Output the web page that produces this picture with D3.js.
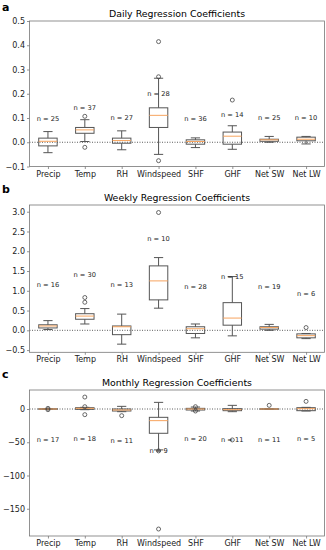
<!DOCTYPE html>
<html>
<head>
<meta charset="utf-8">
<script src="https://cdn.jsdelivr.net/npm/d3@7"></script>
<style>
  body { margin: 0; background: #fff; }
  text { font-family: "DejaVu Sans", sans-serif; }
</style>
</head>
<body>
<div id="chart"></div>
<script>
let w = 326;
let h = 550;

const categories = ["Precip", "Temp", "RH", "Windspeed", "SHF", "GHF", "Net SW", "Net LW"];

// daily
const dailyLow  = [-0.043, 0.003, -0.031, -0.050, -0.022, -0.029, 0.000, -0.007];
const dailyQ1   = [-0.015, 0.037, -0.004, 0.061, -0.008, -0.008, 0.004, 0.006];
const dailyMed  = [0.004, 0.051, 0.007, 0.111, 0.003, 0.025, 0.010, 0.0125];
const dailyQ3   = [0.017, 0.061, 0.017, 0.142, 0.010, 0.042, 0.0125, 0.021];
const dailyHigh = [0.044, 0.093, 0.047, 0.264, 0.018, 0.068, 0.024, 0.024];
const dailyOut  = [[], [0.107, -0.021], [], [0.415, 0.270, -0.076], [], [0.174], [], []];
const dailyN    = [25, 37, 27, 28, 36, 14, 25, 10];
const dailyNy   = [0.097, 0.14, 0.10, 0.20, 0.097, 0.114, 0.10, 0.102];

// weekly
const weeklyLow  = [0.02, 0.16, -0.35, 0.56, -0.19, -0.14, 0.00, -0.21];
const weeklyQ1   = [0.06, 0.28, -0.11, 0.77, -0.08, 0.13, 0.03, -0.19];
const weeklyMed  = [0.11, 0.36, 0.09, 1.25, 0.04, 0.31, 0.07, -0.135];
const weeklyQ3   = [0.14, 0.42, 0.11, 1.63, 0.09, 0.70, 0.09, -0.09];
const weeklyHigh = [0.245, 0.55, 0.41, 1.84, 0.16, 1.36, 0.15, -0.08];
const weeklyOut  = [[], [0.83, 0.71], [], [2.98], [], [], [], [0.07]];
const weeklyN    = [16, 30, 13, 10, 28, 15, 19, 6];
const weeklyNy   = [1.14, 1.40, 1.14, 2.30, 1.10, 1.35, 1.10, 0.91];

// monthly
const monthlyLow  = [-0.5, -1, -4, -61.5, -3, -4, -0.5, -3];
const monthlyQ1   = [-0.5, -0.5, -3, -36.5, -1.5, -2.5, -0.5, -2.5];
const monthlyMed  = [0, 1, -1.5, -17.5, 0, -1, 0, 0.5];
const monthlyQ3   = [0.5, 2, 0, -12.5, 1, 0.5, 0.5, 2];
const monthlyHigh = [0.5, 2.5, 4, 10, 3, 5.5, 0.5, 2.5];
const monthlyOut  = [[1, -1], [18, 3.5, -8.5], [-10], [-63, -180.5], [3.5, -3], [-46.5], [5.5], [11.5]];
const monthlyN    = [17, 18, 11, 9, 20, 11, 11, 5];
const monthlyNy   = [-46.5, -44.5, -48, -63.5, -45.5, -47, -46.5, -45.5];

const svg = d3.select("#chart")
              .append("svg")
              .attr("width", w)
              .attr("height", h)
              .style("background-color", "white");

function drawPanel(p) {
  const x = d3.scaleLinear().domain([0.5, 8.5]).range([29.5, 324.5]);
  const y = d3.scaleLinear().domain(p.domain).range([p.bottom, p.top]);
  const bw = 0.5 * (x(2) - x(1));

  const g = svg.append("g");

  // letter + title
  g.append("text")
   .attr("x", 2).attr("y", Math.max(10.5, p.top - 12.5))
   .style("font-size", "11px").style("font-weight", "bold")
   .text(p.letter);
  g.append("text")
   .attr("x", 177).attr("y", p.top - 4)
   .attr("text-anchor", "middle")
   .style("font-size", "9.4px")
   .text(p.title);

  // zero line
  g.append("line")
   .attr("x1", x(0.5)).attr("x2", x(8.5))
   .attr("y1", y(0)).attr("y2", y(0))
   .attr("stroke", "#333").attr("stroke-width", 0.8)
   .attr("stroke-dasharray", "1,1.5");

  const boxes = g.selectAll(".box")
                 .data(categories)
                 .enter()
                 .append("g")
                 .attr("class", "box");

  // whiskers
  boxes.append("line")
       .attr("x1", (d, i) => x(i + 1)).attr("x2", (d, i) => x(i + 1))
       .attr("y1", (d, i) => y(p.high[i])).attr("y2", (d, i) => y(p.q3[i]))
       .attr("stroke", "#555");
  boxes.append("line")
       .attr("x1", (d, i) => x(i + 1)).attr("x2", (d, i) => x(i + 1))
       .attr("y1", (d, i) => y(p.low[i])).attr("y2", (d, i) => y(p.q1[i]))
       .attr("stroke", "#555");
  // caps
  boxes.append("line")
       .attr("x1", (d, i) => x(i + 1) - bw / 4).attr("x2", (d, i) => x(i + 1) + bw / 4)
       .attr("y1", (d, i) => y(p.high[i])).attr("y2", (d, i) => y(p.high[i]))
       .attr("stroke", "#555");
  boxes.append("line")
       .attr("x1", (d, i) => x(i + 1) - bw / 4).attr("x2", (d, i) => x(i + 1) + bw / 4)
       .attr("y1", (d, i) => y(p.low[i])).attr("y2", (d, i) => y(p.low[i]))
       .attr("stroke", "#555");
  // box
  boxes.append("rect")
       .attr("x", (d, i) => x(i + 1) - bw / 2)
       .attr("width", bw)
       .attr("y", (d, i) => y(p.q3[i]))
       .attr("height", (d, i) => Math.max(0.5, y(p.q1[i]) - y(p.q3[i])))
       .attr("fill", "none")
       .attr("stroke", "#555");
  // median
  boxes.append("line")
       .attr("x1", (d, i) => x(i + 1) - bw / 2).attr("x2", (d, i) => x(i + 1) + bw / 2)
       .attr("y1", (d, i) => y(p.med[i])).attr("y2", (d, i) => y(p.med[i]))
       .attr("stroke", "#f7a45e").attr("stroke-width", 1);

  // fliers
  const fliers = [];
  p.out.forEach((arr, i) => arr.forEach((v) => fliers.push({ i: i, v: v })));
  g.selectAll(".flier")
   .data(fliers)
   .enter()
   .append("circle")
   .attr("class", "flier")
   .attr("cx", (d) => x(d.i + 1))
   .attr("cy", (d) => y(d.v))
   .attr("r", 2)
   .attr("fill", "none")
   .attr("stroke", "#444")
   .attr("stroke-width", 0.8);

  // n labels
  g.selectAll(".nlab")
   .data(categories)
   .enter()
   .append("text")
   .attr("class", "nlab")
   .attr("x", (d, i) => x(i + 1))
   .attr("y", (d, i) => y(p.ny[i]))
   .attr("text-anchor", "middle")
   .attr("dominant-baseline", "central")
   .style("font-size", "6.7px")
   .style("fill", "#222")
   .text((d, i) => "n = " + p.n[i]);

  // frame
  g.append("rect")
   .attr("x", x(0.5)).attr("y", p.top)
   .attr("width", x(8.5) - x(0.5))
   .attr("height", p.bottom - p.top)
   .attr("fill", "none")
   .attr("stroke", "#777")
   .attr("stroke-width", 0.8);

  // axes
  const yAxis = d3.axisLeft(y).tickValues(p.ticks).tickFormat(p.fmt).tickSize(2.5).tickPadding(2);
  const ya = g.append("g")
              .attr("transform", "translate(" + x(0.5) + ",0)")
              .call(yAxis);
  const xAxis = d3.axisBottom(x).tickValues(d3.range(1, 9)).tickFormat((d) => categories[d - 1]).tickSize(2.5).tickPadding(2);
  const xa = g.append("g")
              .attr("transform", "translate(0," + p.bottom + ")")
              .call(xAxis);
  [ya, xa].forEach((a) => {
    a.select(".domain").remove();
    a.selectAll("line").attr("stroke", "#777").attr("stroke-width", 0.8);
    a.selectAll("text").style("font-size", "8px").style("fill", "#222")
     .style("font-family", "'DejaVu Sans', sans-serif");
  });
}

const minus = (s) => s.replace("-", "\u2212");

drawPanel({
  letter: "a", title: "Daily Regression Coefficients",
  top: 21, bottom: 166.5, domain: [-0.1, 0.5],
  ticks: [-0.1, 0, 0.1, 0.2, 0.3, 0.4, 0.5], fmt: (d) => minus(d3.format(".1f")(d)),
  low: dailyLow, q1: dailyQ1, med: dailyMed, q3: dailyQ3, high: dailyHigh,
  out: dailyOut, n: dailyN, ny: dailyNy
});

drawPanel({
  letter: "b", title: "Weekly Regression Coefficients",
  top: 205, bottom: 352.3, domain: [-0.556, 3.17],
  ticks: [-0.5, 0, 0.5, 1, 1.5, 2, 2.5, 3], fmt: (d) => minus(d3.format(".1f")(d)),
  low: weeklyLow, q1: weeklyQ1, med: weeklyMed, q3: weeklyQ3, high: weeklyHigh,
  out: weeklyOut, n: weeklyN, ny: weeklyNy
});

drawPanel({
  letter: "c", title: "Monthly Regression Coefficients",
  top: 390, bottom: 536, domain: [-191, 28.6],
  ticks: [-150, -100, -50, 0], fmt: (d) => minus(d3.format("d")(d)),
  low: monthlyLow, q1: monthlyQ1, med: monthlyMed, q3: monthlyQ3, high: monthlyHigh,
  out: monthlyOut, n: monthlyN, ny: monthlyNy
});
</script>
</body>
</html>
